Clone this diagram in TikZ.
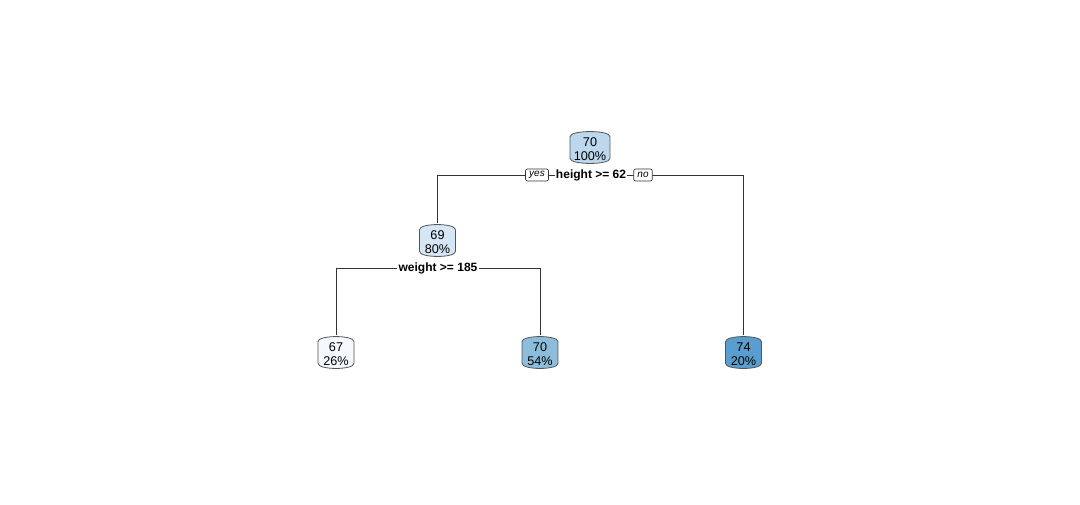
\documentclass[tikz,border=0pt]{standalone}
\usepackage{fontspec}
\setmainfont{Liberation Sans}
\usetikzlibrary{calc}
\pgfdeclarelayer{edges}
\pgfdeclarelayer{shapes}
\pgfsetlayers{edges,shapes,main}
\definecolor{cRoot}{HTML}{BDD7EE}
\definecolor{cN69}{HTML}{D6E6F4}
\definecolor{cL67}{HTML}{F5F9FD}
\definecolor{cL70}{HTML}{8CBEDC}
\definecolor{cL74}{HTML}{5A9ECF}
\definecolor{edgecol}{HTML}{333333}
\definecolor{boxcol}{HTML}{555555}
\tikzset{
  tnode/.style={inner xsep=0pt, inner ysep=0pt, minimum height=26pt, minimum width=26.5pt,
    align=center, font=\fontsize{9.5pt}{11pt}\selectfont},
  splitlab/.style={fill=white, inner xsep=1pt, inner ysep=1pt, font=\fontsize{9pt}{10.5pt}\selectfont\bfseries},
  yesno/.style={draw=edgecol, line width=0.5pt, fill=white, rounded corners=1.5pt, inner xsep=2.8pt, inner ysep=0pt,
    minimum height=9pt, font=\fontsize{7.5pt}{8pt}\selectfont\itshape},
  edge/.style={draw=edgecol, line width=0.6pt},
  boxline/.style={draw=boxcol, line width=0.6pt}
}
\newcommand\nodetxt[2]{\raisebox{-2.3pt}[\height][\depth]{\begin{tabular}{@{}c@{}}#1\\#2\end{tabular}}}
\newcommand\tubebox[2]{%
  \path[boxline, fill=#2] ($(#1.north west)+(0,-5pt)$) .. controls (#1.north west) and (#1.north east) .. ($(#1.north east)+(0,-5pt)$) -- ($(#1.south east)+(0,5pt)$) .. controls (#1.south east) and (#1.south west) .. ($(#1.south west)+(0,5pt)$) -- cycle;}
\begin{document}
\begin{tikzpicture}[x=0.75pt, y=-0.75pt]
\useasboundingbox (0,0) rectangle (1080,504);
% nodes
\node[tnode, minimum width=29.5pt] (root) at (590,147.5) {\nodetxt{70}{100\%}};
\node[splitlab] (s1) at (591,175) {height >= 62};
\node[yesno] (yes) at (537,175) {yes};
\node[yesno] (no) at (643,175) {no};
\node[tnode] (n69) at (437.5,240.5) {\nodetxt{69}{80\%}};
\node[splitlab] (s2) at (438,268) {weight >= 185};
\node[tnode] (l67) at (336,352.5) {\nodetxt{67}{26\%}};
\node[tnode] (l70) at (540,352.5) {\nodetxt{70}{54\%}};
\node[tnode] (l74) at (743.5,352.5) {\nodetxt{74}{20\%}};
% shapes
\begin{pgfonlayer}{shapes}
\tubebox{root}{cRoot}
\tubebox{n69}{cN69}
\tubebox{l67}{cL67}
\tubebox{l70}{cL70}
\tubebox{l74}{cL74}
\end{pgfonlayer}
% edges
\begin{pgfonlayer}{edges}
\draw[edge] (s1.center) -| (n69.north);
\draw[edge] (s1.center) -| (l74.north);
\draw[edge] (s2.center) -| (l67.north);
\draw[edge] (s2.center) -| (l70.north);
\end{pgfonlayer}
\end{tikzpicture}
\end{document}
